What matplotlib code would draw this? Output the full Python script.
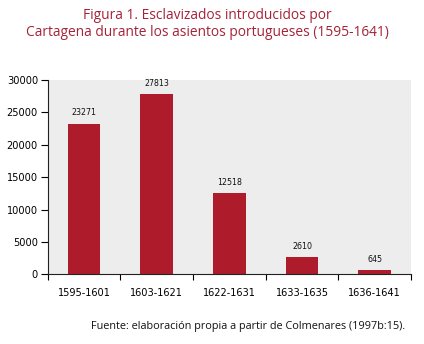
import matplotlib
matplotlib.use("Agg")
import matplotlib.pyplot as plt
from matplotlib import font_manager
from matplotlib.font_manager import FontProperties

categories = ["1595-1601", "1603-1621", "1622-1631", "1633-1635", "1636-1641"]
values = [23271, 27813, 12518, 2610, 645]
yticks = [0, 5000, 10000, 15000, 20000, 25000, 30000]

cond = FontProperties(family="DejaVu Sans", stretch="condensed")
path = font_manager.findfont(cond)

W, H = 424, 344
fig = plt.figure(figsize=(W / 100, H / 100), dpi=100)
ax = fig.add_axes([47.7 / W, 1 - 274.3 / H, (411 - 47.7) / W, (274.3 - 80) / H])
ax.set_facecolor("#ededed")

def fp(size):
    return FontProperties(fname=path, size=size)

x = list(range(len(categories)))
ax.bar(x, values, width=0.45, color="#ae1c2b", zorder=2)
for xi, v in zip(x, values):
    ax.annotate(str(v), (xi, v), xytext=(0, 8), textcoords="offset points",
                ha="center", va="center", fontproperties=fp(6.3), color="#111111")

ax.set_xlim(-0.5, len(categories) - 0.5)
ax.set_ylim(0, 30000)
ax.set_yticks(yticks)
ax.set_yticklabels([str(t) for t in yticks], fontproperties=fp(7.8))
ax.set_xticks(x)
ax.set_xticklabels(categories, fontproperties=fp(7.8))
ax.tick_params(axis="x", length=0, pad=10)
ax.set_xticks([i - 0.5 for i in range(len(categories) + 1)], minor=True)
ax.tick_params(axis="x", which="minor", length=4, width=0.8, direction="out")
ax.tick_params(axis="y", length=5, width=0.8, direction="out", pad=2)
for s in ["top", "right"]:
    ax.spines[s].set_visible(False)
for s in ["left", "bottom"]:
    ax.spines[s].set_linewidth(0.8)
    ax.spines[s].set_color("#222222")

fig.text(207 / W, 1 - 24 / H, "Figura 1. Esclavizados introducidos por\nCartagena durante los asientos portugueses (1595-1641)",
         ha="center", va="center", fontsize=9.9, color="#a52238", family="Open Sans",
         linespacing=1.15)
fig.text(405 / W, 1 - 326 / H, "Fuente: elaboración propia a partir de Colmenares (1997b:15).",
         ha="right", va="center", fontsize=7.8, color="#111111", family="Open Sans")

fig.savefig("out.png", dpi=100)
